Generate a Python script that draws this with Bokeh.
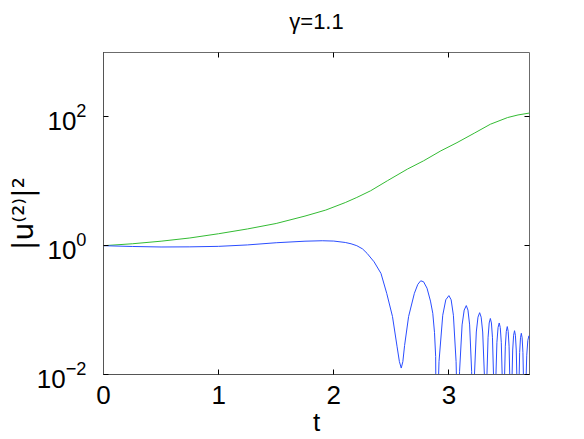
from bokeh.plotting import figure
from bokeh.models import Range1d, FixedTicker, LinearAxis, LogAxis, CustomJSTickFormatter
from bokeh.embed import file_html
from bokeh.resources import INLINE

# ---- data ----
title_text = "γ=1.1"
x_label = "t"
y_label = "|u⁽²⁾|²"
x_ticks = [0, 1, 2, 3]
y_ticks = [0.01, 1, 100]

green_t = [0, 0.25, 0.5, 0.75, 1.0, 1.25, 1.5, 1.75, 1.93, 2.1, 2.2, 2.32, 2.465,
           2.64, 2.78, 2.93, 3.07, 3.22, 3.36, 3.51, 3.6, 3.7]
green_log10 = [0, 0.03, 0.07, 0.12, 0.186, 0.26, 0.345, 0.46, 0.553, 0.67, 0.749, 0.853, 1.008,
               1.19, 1.318, 1.473, 1.60, 1.747, 1.886, 1.99, 2.03, 2.06]

blue_t = [0, 0.25, 0.5, 0.75, 1.0, 1.25, 1.5, 1.75, 1.9, 2.0, 2.1, 2.15, 2.2, 2.25, 2.29,
          2.35, 2.41, 2.46, 2.51, 2.55, 2.57, 2.586, 2.60, 2.615, 2.65, 2.70, 2.73, 2.755,
          2.78, 2.81, 2.84, 2.86, 2.875, 2.885, 2.893,
          2.904, 2.914, 2.9465, 2.973, 3.0, 3.0195, 3.039, 3.0624, 3.0702, 3.078,
          3.0853, 3.0926, 3.1145, 3.1328, 3.151, 3.1655, 3.18, 3.1974, 3.2032, 3.209,
          3.2148, 3.2206, 3.238, 3.2525, 3.267, 3.2802, 3.2935, 3.3094, 3.3147, 3.32,
          3.328, 3.34, 3.35, 3.36, 3.3693, 3.3785, 3.3896, 3.397,
          3.405, 3.417, 3.427, 3.437, 3.446, 3.455, 3.4658, 3.473,
          3.4798, 3.49, 3.4985, 3.507, 3.5148, 3.5225, 3.5318, 3.538,
          3.5444, 3.554, 3.562, 3.57, 3.5775, 3.585, 3.594, 3.60,
          3.6058, 3.6145, 3.6218, 3.629, 3.636, 3.643, 3.6514, 3.657,
          3.6646, 3.676, 3.6855, 3.695, 3.70]
blue_log10 = [0, -0.012, -0.02, -0.018, -0.01, 0.012, 0.046, 0.07, 0.077, 0.072, 0.05, 0.03,
              0.0, -0.05, -0.12, -0.25, -0.43, -0.74, -1.10, -1.57, -1.80, -1.90, -1.80,
              -1.55, -1.10, -0.74, -0.60, -0.545, -0.56, -0.66, -0.86, -1.05, -1.35, -1.72, -4,
              -2.39, -1.80, -1.08, -0.84, -0.775, -0.84, -1.08, -1.80, -2.39, -4,
              -2.54, -1.95, -1.23, -1.00, -0.93, -1.00, -1.23, -1.95, -2.54, -4,
              -2.65, -2.06, -1.34, -1.11, -1.04, -1.11, -1.34, -2.06, -2.65, -4,
              -2.15, -1.43, -1.20, -1.13, -1.20, -1.43, -2.15, -4,
              -2.22, -1.50, -1.27, -1.20, -1.27, -1.50, -2.22, -4,
              -2.28, -1.56, -1.33, -1.256, -1.33, -1.56, -2.28, -4,
              -2.34, -1.62, -1.39, -1.32, -1.39, -1.62, -2.34, -4,
              -2.38, -1.66, -1.43, -1.36, -1.43, -1.66, -2.38, -4,
              -2.42, -1.70, -1.47, -1.40, -1.42]

green_y = [10 ** v for v in green_log10]
blue_y = [10 ** v for v in blue_log10]

FONT = "Liberation Sans"

p = figure(width=580, height=439, output_backend="svg", toolbar_location=None,
           y_axis_type="log", x_range=Range1d(0, 3.7), y_range=Range1d(0.01, 1000),
           min_border_left=103, min_border_right=51, min_border_top=52, min_border_bottom=65)
p.background_fill_color = "white"
p.border_fill_color = "white"
p.outline_line_color = "#6b6b6b"
p.xgrid.visible = False
p.ygrid.visible = False

for ax in p.xaxis:
    ax.ticker = FixedTicker(ticks=x_ticks, minor_ticks=[])
for ax in p.yaxis:
    ax.ticker = FixedTicker(ticks=y_ticks, minor_ticks=[])

for ax in list(p.xaxis) + list(p.yaxis):
    ax.major_tick_in = 5
    ax.major_tick_out = 0
    ax.minor_tick_in = 0
    ax.minor_tick_out = 0
    ax.major_tick_line_color = "black"
    ax.axis_line_color = "#555555"
    ax.major_label_text_font = FONT
    ax.major_label_text_font_size = "26px"
    ax.major_label_text_color = "black"
    ax.axis_label_text_font = FONT
    ax.axis_label_text_font_size = "26px"
    ax.axis_label_text_font_style = "normal"
    ax.axis_label_text_color = "black"
p.xaxis.major_label_standoff = 11
p.yaxis.major_label_standoff = 17
p.xaxis.axis_label = x_label
p.yaxis.axis_label = y_label
p.yaxis.axis_label_text_font = "DejaVu Sans"
p.yaxis.axis_label_text_font_size = "28px"
p.xaxis.axis_label_standoff = 0
p.yaxis.axis_label_standoff = -6

# top axis: tick marks only, carries the plot title as its label
top = LinearAxis(ticker=FixedTicker(ticks=x_ticks, minor_ticks=[]),
                 formatter=CustomJSTickFormatter(code="return '';"),
                 major_tick_in=5, major_tick_out=0, minor_tick_in=0, minor_tick_out=0,
                 major_label_text_font_size="8px", axis_line_color=None,
                 major_label_standoff=0, major_tick_line_color="black",
                 axis_label=title_text, axis_label_text_font=FONT,
                 axis_label_text_font_size="22px", axis_label_text_font_style="normal",
                 axis_label_text_color="black", axis_label_standoff=19)
right = LogAxis(ticker=FixedTicker(ticks=y_ticks, minor_ticks=[]),
                formatter=CustomJSTickFormatter(code="return '';"),
                major_tick_in=5, major_tick_out=0, minor_tick_in=0, minor_tick_out=0,
                major_label_text_font_size="8px", axis_line_color=None,
                major_label_standoff=0, major_tick_line_color="black")
p.add_layout(top, "above")
p.add_layout(right, "right")

p.line(green_t, green_y, line_color="#33bb33", line_width=1)
p.line(blue_t, blue_y, line_color="#2a4dff", line_width=1)

open("out.html", "w").write(file_html(p, INLINE))
